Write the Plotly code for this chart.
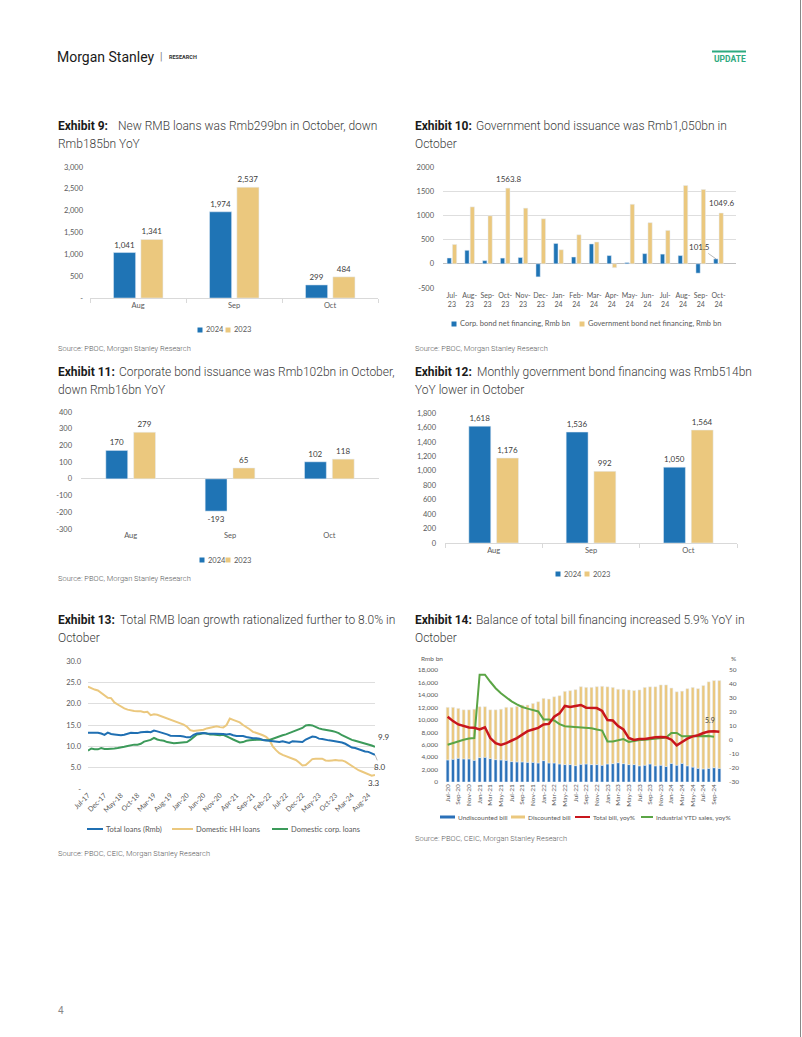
import plotly.graph_objects as go
import pandas as pd

W, H = 802, 1037
def fx(p): return p / W
def fy(p): return 1 - p / H

BLUE = "#1f74b5"
GOLD = "#ebc87e"
TXT = "#404040"
AX = "#595959"
GRID = "#dedede"
FAM = "Lato, Roboto, sans-serif"
TFAM = "Roboto, sans-serif"

# ---------------- data ----------------
ex9_cats = ["Aug", "Sep", "Oct"]
ex9_2024 = [1041, 1974, 299]
ex9_2023 = [1341, 2537, 484]
ex9_yticks = [0, 500, 1000, 1500, 2000, 2500, 3000]
ex9_yticktext = ["-", "500", "1,000", "1,500", "2,000", "2,500", "3,000"]

ex10_cats = ["Jul-23", "Aug-23", "Sep-23", "Oct-23", "Nov-23", "Dec-23", "Jan-24", "Feb-24",
             "Mar-24", "Apr-24", "May-24", "Jun-24", "Jul-24", "Aug-24", "Sep-24", "Oct-24"]
ex10_corp = [120, 279, 65, 118, 130, -270, 420, 140, 410, 170, 25, 210, 200, 170, -193, 101.5]
ex10_gov = [400, 1176, 992, 1563.8, 1150, 930, 290, 600, 450, -80, 1230, 850, 690, 1618, 1536, 1049.6]
ex10_ticktext = [c.replace("-", "-<br>") for c in ex10_cats]
ex10_yticks = [-500, 0, 500, 1000, 1500, 2000]
ex10_yticktext = ["-500", "0", "500", "1000", "1500", "2000"]

ex11_cats = ["Aug", "Sep", "Oct"]
ex11_2024 = [170, -193, 102]
ex11_2023 = [279, 65, 118]
ex11_yticks = [-300, -200, -100, 0, 100, 200, 300, 400]
ex11_yticktext = ["-300", "-200", "-100", "0", "100", "200", "300", "400"]

ex12_cats = ["Aug", "Sep", "Oct"]
ex12_2024 = [1618, 1536, 1050]
ex12_2023 = [1176, 992, 1564]

ex13_months = list(pd.date_range("2017-07-01", "2024-10-01", freq="MS").strftime("%b-%y"))
ex13_total = [13.2, 13.2, 13.1, 13.2, 13.0, 12.7,
              13.2, 12.9, 12.8, 12.7, 12.6, 12.7, 13.0, 13.2, 13.1, 13.1, 13.3, 13.4,
              13.4, 13.3, 13.7, 13.5, 13.3, 13.0, 12.8, 12.5, 12.5, 12.5, 12.4, 12.3,
              12.1, 12.1, 12.7, 13.0, 13.1, 13.1, 13.0, 13.0, 12.9, 12.9, 12.9, 12.9,
              12.8, 12.9, 12.6, 12.4, 12.4, 12.4, 12.2, 12.0, 11.9, 11.9, 11.8, 11.5,
              11.4, 11.3, 11.2, 11.1, 11.0, 11.2, 11.0, 10.8, 11.2, 11.1, 11.0, 11.0,
              11.6, 12.0, 12.3, 12.2, 11.8, 11.7, 11.5, 11.4, 11.3, 11.2, 11.1, 10.9,
              10.6, 10.1, 9.7, 9.6, 9.3, 9.1, 8.8, 8.7, 8.4, 8.0]
ex13_hh = [24.0, 23.6, 23.3, 23.1, 22.5, 21.9,
           21.4, 21.3, 20.3, 19.8, 19.3, 18.9, 18.6, 18.4, 18.3, 18.2, 18.2, 18.0,
           18.1, 17.3, 17.5, 17.4, 17.1, 16.9, 16.6, 16.3, 15.9, 15.6, 15.3, 15.1,
           14.6, 13.8, 13.6, 13.7, 13.8, 13.9, 14.2, 14.4, 14.6, 14.7, 14.5, 14.4,
           15.0, 16.5, 16.2, 15.9, 15.6, 15.0, 14.6, 14.0, 13.4, 13.2, 12.9, 12.6,
           12.2, 11.5, 10.0, 9.1, 8.4, 8.0, 7.7, 7.5, 7.2, 6.8, 6.2, 5.5,
           5.6, 6.4, 7.0, 7.1, 7.1, 7.1, 6.7, 6.6, 6.7, 6.8, 6.7, 6.7,
           6.4, 5.9, 5.3, 4.8, 4.4, 4.1, 3.8, 3.5, 3.1, 3.3]
ex13_corp = [9.0, 9.5, 9.3, 9.3, 9.6, 9.4,
             9.4, 9.4, 9.5, 9.6, 9.7, 9.9, 10.1, 10.3, 10.4, 10.4, 10.6, 11.1,
             11.3, 11.5, 12.0, 11.6, 11.4, 11.3, 11.0, 10.8, 10.7, 10.8, 10.9, 10.9,
             11.0, 11.5, 12.2, 12.8, 12.9, 13.1, 13.0, 12.8, 12.8, 12.7, 12.6, 12.7,
             12.4, 12.0, 11.6, 11.2, 10.9, 11.0, 11.3, 11.4, 11.5, 11.6, 11.6, 11.5,
             11.4, 11.5, 11.8, 12.1, 12.4, 12.6, 12.8, 13.1, 13.4, 13.6, 13.9, 14.3,
             14.9, 15.0, 14.9, 14.5, 14.2, 14.0, 13.9, 13.8, 13.6, 13.4, 13.1, 12.6,
             12.2, 11.8, 11.5, 11.3, 11.1, 10.9, 10.6, 10.4, 10.2, 9.9]
ex13_yticks = [0, 5, 10, 15, 20, 25, 30]
ex13_yticktext = ["-", "5.0", "10.0", "15.0", "20.0", "25.0", "30.0"]

ex14_months = list(pd.date_range("2020-07-01", "2024-10-01", freq="MS").strftime("%b-%y"))
ex14_undisc = [3550, 3660, 3820, 3710, 3710, 3490, 3920, 3980, 3760, 3600, 3550, 3490,
               3280, 3230, 3230, 3170, 3170, 3060, 3440, 3060, 3060, 2900, 2800, 2800,
               2630, 2850, 2900, 2800, 2800, 2690, 2900, 2950, 3100, 2950, 2800, 2800,
               2600, 2700, 2900, 2600, 2700, 2500, 3000, 2700, 3000, 2600, 2400, 2200,
               2100, 2200, 2300, 2200]
ex14_disc = [8450, 8340, 8010, 7890, 7890, 8210, 8180, 8120, 7840, 8000, 8150, 8510,
             8720, 8920, 9140, 9200, 9460, 9840, 10000, 10270, 10640, 10970, 11770, 11880,
             12210, 12470, 12310, 12410, 12520, 12690, 12400, 12250, 11800, 11950, 12000, 11900,
             12200, 12500, 12400, 12700, 12900, 13100, 12100, 11800, 11600, 12400, 12800, 12800,
             13400, 13900, 14000, 14100]
ex14_total_yoy = [16.6, 13.5, 11.1, 9.8, 8.9, 8.7, 7.5, 9.1, 1.4, -2.2, -3.6, -2.2,
                  -0.5, 1.4, 3.8, 6.3, 7.5, 8.7, 11.1, 11.5, 16.6, 19.0, 24.3, 23.6,
                  24.3, 25.0, 23.1, 22.8, 22.8, 20.7, 14.2, 13.9, 9.9, 7.5, 1.4, 0.0,
                  0.7, 0.7, 1.4, 1.9, 2.2, 1.9, 0.2, -3.8, -1.4, 1.0, 2.6, 3.4,
                  5.0, 6.0, 6.2, 5.9]
ex14_ind_sales = [-3.4, -2.2, -0.5, 0.2, 1.0, 1.4, 46.6, 46.6, 41.6, 37.0, 33.4, 30.3,
                  27.6, 25.5, 23.6, 22.4, 21.2, 20.4, 14.7, 14.7, 13.9, 11.3, 9.9, 9.6,
                  9.4, 9.1, 8.9, 8.4, 7.5, 6.7, -1.0, -1.0, -0.2, 0.7, -1.4, -0.5,
                  0.0, 0.2, 0.5, 1.0, 1.4, 1.7, 5.0, 5.0, 2.6, 2.6, 3.1, 3.1,
                  3.1, 2.9, 2.4]
ex14_y2ticks = [-30, -20, -10, 0, 10, 20, 30, 40, 50]
ex14_y2ticktext = ["-30", "-20", "-10", "0", "10", "20", "30", "40", "50"]

# ---------------- figure ----------------
fig = go.Figure()
fmt = lambda vals: [f"{v:,}" for v in vals]
bar_txt = dict(family=FAM, size=8, color=TXT)

# Exhibit 9
fig.add_trace(go.Bar(x=ex9_cats, y=ex9_2024, marker_color=BLUE, width=0.23, offset=-0.255,
                     text=fmt(ex9_2024), textposition="outside", textfont=bar_txt,
                     cliponaxis=False, xaxis="x", yaxis="y"))
fig.add_trace(go.Bar(x=ex9_cats, y=ex9_2023, marker_color=GOLD, width=0.23, offset=0.03,
                     text=fmt(ex9_2023), textposition="outside", textfont=bar_txt,
                     cliponaxis=False, xaxis="x", yaxis="y"))
# Exhibit 10
fig.add_trace(go.Bar(x=ex10_cats, y=ex10_corp, marker_color=BLUE, width=0.24, offset=-0.27,
                     xaxis="x2", yaxis="y2"))
fig.add_trace(go.Bar(x=ex10_cats, y=ex10_gov, marker_color=GOLD, width=0.24, offset=0.03,
                     xaxis="x2", yaxis="y2"))
# Exhibit 11
fig.add_trace(go.Bar(x=ex11_cats, y=ex11_2024, marker_color=BLUE, width=0.22, offset=-0.25,
                     text=fmt(ex11_2024), textposition="outside", textfont=bar_txt,
                     cliponaxis=False, xaxis="x3", yaxis="y3"))
fig.add_trace(go.Bar(x=ex11_cats, y=ex11_2023, marker_color=GOLD, width=0.22, offset=0.03,
                     text=fmt(ex11_2023), textposition="outside", textfont=bar_txt,
                     cliponaxis=False, xaxis="x3", yaxis="y3"))
# Exhibit 12
fig.add_trace(go.Bar(x=ex12_cats, y=ex12_2024, marker_color=BLUE, width=0.225, offset=-0.255,
                     text=fmt(ex12_2024), textposition="outside", textfont=bar_txt,
                     cliponaxis=False, xaxis="x4", yaxis="y4"))
fig.add_trace(go.Bar(x=ex12_cats, y=ex12_2023, marker_color=GOLD, width=0.225, offset=0.03,
                     text=fmt(ex12_2023), textposition="outside", textfont=bar_txt,
                     cliponaxis=False, xaxis="x4", yaxis="y4"))
# Exhibit 13
C13_BLUE, C13_GOLD, C13_GREEN = "#1f6fb2", "#ebc87e", "#3c9a5a"
for ys, col in [(ex13_hh, C13_GOLD), (ex13_corp, C13_GREEN), (ex13_total, C13_BLUE)]:
    fig.add_trace(go.Scatter(x=ex13_months, y=ys, mode="lines", line=dict(color=col, width=2),
                             xaxis="x5", yaxis="y5"))
# Exhibit 14
RED, GREEN14 = "#c8161d", "#5ba545"
fig.add_trace(go.Bar(x=ex14_months, y=ex14_undisc, marker_color="#2a70b8", width=0.55, offset=-0.275,
                     xaxis="x6", yaxis="y6"))
fig.add_trace(go.Bar(x=ex14_months, y=ex14_disc, base=ex14_undisc, marker_color=GOLD, width=0.55,
                     offset=-0.275, xaxis="x6", yaxis="y6"))
fig.add_trace(go.Scatter(x=ex14_months[:len(ex14_ind_sales)], y=ex14_ind_sales, mode="lines",
                         line=dict(color=GREEN14, width=2), xaxis="x6", yaxis="y7"))
fig.add_trace(go.Scatter(x=ex14_months, y=ex14_total_yoy, mode="lines",
                         line=dict(color=RED, width=2.5), xaxis="x6", yaxis="y7"))

tf = dict(family=FAM, size=7.5, color=AX)
tf_small = dict(family=FAM, size=6.5, color=AX)
NA = dict(automargin=False, fixedrange=True)

fig.update_layout(
    width=W, height=H, margin=dict(l=0, r=0, t=0, b=0, pad=0, autoexpand=False),
    paper_bgcolor="white", plot_bgcolor="rgba(0,0,0,0)", showlegend=False,
    barmode="overlay",
    # Exhibit 9
    xaxis=dict(domain=[fx(90), fx(378)], anchor="y", type="category", showline=True,
               linecolor="#d9d9d9", ticks="outside", tickson="boundaries", ticklen=4,
               tickcolor="#d9d9d9", tickfont=tf, showgrid=False, **NA),
    yaxis=dict(domain=[fy(298), fy(167)], anchor="x", range=[0, 3000], tickvals=ex9_yticks,
               ticktext=ex9_yticktext, showgrid=False, zeroline=False, tickfont=tf,
               ticklabelstandoff=6, **NA),
    # Exhibit 10
    xaxis2=dict(domain=[fx(443), fx(736)], anchor="y2", type="category", tickvals=ex10_cats,
                ticktext=ex10_ticktext, tickangle=0, tickfont=dict(family=FAM, size=7, color=AX),
                showgrid=False, showline=False, ticklabelstandoff=2, **NA),
    yaxis2=dict(domain=[fy(288), fy(167)], anchor="x2", range=[-500, 2000], tickvals=ex10_yticks,
                ticktext=ex10_yticktext, showgrid=True, gridcolor=GRID, zeroline=True,
                zerolinecolor="#bfbfbf", zerolinewidth=1, tickfont=tf, ticklabelstandoff=8, **NA),
    # Exhibit 11
    xaxis3=dict(domain=[fx(81), fx(379)], anchor="y3", type="category", showline=False,
                showgrid=False, tickfont=tf, **NA),
    yaxis3=dict(domain=[fy(529), fy(412)], anchor="x3", range=[-300, 400], tickvals=ex11_yticks,
                ticktext=ex11_yticktext, showgrid=False, zeroline=True, zerolinecolor="#d9d9d9",
                zerolinewidth=1, tickfont=tf, ticklabelstandoff=8, **NA),
    # Exhibit 12
    xaxis4=dict(domain=[fx(445), fx(737)], anchor="y4", type="category", showline=True,
                linecolor="#d9d9d9", ticks="outside", tickson="boundaries", ticklen=4,
                tickcolor="#d9d9d9", showgrid=False, tickfont=tf, **NA),
    yaxis4=dict(domain=[fy(543), fy(413)], anchor="x4", range=[0, 1800], dtick=200,
                tickformat=",", showgrid=False, zeroline=False, tickfont=tf,
                ticklabelstandoff=8, **NA),
    # Exhibit 13
    xaxis5=dict(domain=[fx(88), fx(375)], anchor="y5", type="category", range=[0, 87],
                tickvals=ex13_months[::5], tickangle=-45, tickfont=dict(family=FAM, size=7, color=AX),
                showgrid=False, showline=False, **NA),
    yaxis5=dict(domain=[fy(789), fy(661)], anchor="x5", range=[0, 30], tickvals=ex13_yticks,
                ticktext=ex13_yticktext, showgrid=True, gridcolor=GRID, zeroline=False,
                tickfont=tf, ticklabelstandoff=6, **NA),
    # Exhibit 14
    xaxis6=dict(domain=[fx(445), fx(722)], anchor="y6", type="category", range=[-0.5, 51.5],
                tickvals=ex14_months[::2], tickangle=-90, tickfont=tf_small,
                showgrid=False, showline=False, **NA),
    yaxis6=dict(domain=[fy(782), fy(670)], anchor="x6", range=[0, 18000], dtick=2000,
                tickformat=",", showgrid=False, zeroline=False, tickfont=tf_small,
                ticklabelstandoff=6, **NA),
    yaxis7=dict(domain=[fy(782), fy(670)], anchor="x6", overlaying="y6", side="right",
                range=[-30, 50], tickvals=ex14_y2ticks, ticktext=ex14_y2ticktext,
                showgrid=False, zeroline=False, tickfont=tf_small, ticklabelstandoff=6, **NA),
)

ann = []
shapes = []

def text(x, y, s, size=7.5, color=AX, anchor="left", family=FAM, weight=None):
    f = dict(family=family, size=size, color=color)
    if weight:
        f["weight"] = weight
    ann.append(dict(xref="paper", yref="paper", x=fx(x), y=fy(y), text=s, showarrow=False,
                    xanchor=anchor, yanchor="middle", font=f))

def rect(x0, x1, y0, y1, color):
    shapes.append(dict(type="rect", xref="paper", yref="paper", x0=fx(x0), x1=fx(x1),
                       y0=fy(y0), y1=fy(y1), line=dict(width=0), fillcolor=color))

def hline(x0, x1, y, color, w=2):
    shapes.append(dict(type="line", xref="paper", yref="paper", x0=fx(x0), x1=fx(x1),
                       y0=fy(y), y1=fy(y), line=dict(color=color, width=w)))

# header
text(55, 57, "Morgan Stanley", size=14, color="#1a1a1a", family=TFAM)
text(158, 57, "|", size=10, color="#777", family=TFAM)
text(167, 57.5, "<b>RESEARCH</b>", size=5.5, color="#333", family=TFAM)
hline(712, 746, 51.5, "#2eaa80", 2)
text(712, 58.5, "<b>UPDATE</b>", size=8.5, color="#2eaa80", family=TFAM)
text(56, 1010, "4", size=10, color="#888", family=TFAM)
shapes.append(dict(type="line", xref="paper", yref="paper", x0=fx(800.5), x1=fx(800.5), y0=0, y1=1,
                   line=dict(color="#888", width=1)))

# titles
titles = [
    (56, 116, 126, 144, "Exhibit 9:", "New RMB loans was Rmb299bn in October, down", "Rmb185bn YoY"),
    (413, 474, 126, 144, "Exhibit 10:", "Government bond issuance was Rmb1,050bn in", "October"),
    (56, 117, 372, 390, "Exhibit 11:", "Corporate bond issuance was Rmb102bn in October,", "down Rmb16bn YoY"),
    (413, 475, 372, 390, "Exhibit 12:", "Monthly government bond financing was Rmb514bn", "YoY lower in October"),
    (56, 118, 620, 638, "Exhibit 13:", "Total RMB loan growth rationalized further to 8.0% in", "October"),
    (413, 474, 620, 638, "Exhibit 14:", "Balance of total bill financing increased 5.9% YoY in", "October"),
]
for x0, x1, y1, y2, lab, l1, l2 in titles:
    text(x0, y1, f"<b>{lab}</b>", size=12, color="#1a1a1a", family=TFAM)
    text(x1, y1, l1, size=12, color="#3c3c3c", family=TFAM, weight=300)
    text(x0, y2, l2, size=12, color="#3c3c3c", family=TFAM, weight=300)

# sources
src1 = "Source: PBOC, Morgan Stanley Research"
src2 = "Source: PBOC, CEIC, Morgan Stanley Research"
for x, y, s in [(56, 348, src1), (413, 348, src1), (56, 578, src1), (56, 853, src2), (413, 838, src2)]:
    text(x, y, s, size=7.5, color="#5a5a5a", family=TFAM, weight=300)

# legends
def bar_legend(xs, y, labels, colors):
    for x, lab, col in zip(xs, labels, colors):
        rect(x - 2.5, x + 2.5, y - 2.5, y + 2.5, col)
        text(x + 4, y, lab)

bar_legend([200, 228], 330, ["2024", "2023"], [BLUE, GOLD])
bar_legend([454, 582], 324, ["Corp. bond net financing, Rmb bn", "Government bond net financing, Rmb bn"], [BLUE, GOLD])
bar_legend([202, 228], 560, ["2024", "2023"], [BLUE, GOLD])
bar_legend([558, 587], 574, ["2024", "2023"], [BLUE, GOLD])

for x0, x1, lab, col in [(87, 103, "Total loans (Rmb)", C13_BLUE), (172, 193, "Domestic HH loans", C13_GOLD),
                         (272, 288, "Domestic corp. loans", C13_GREEN)]:
    hline(x0, x1, 829, col, 2)
    text(x1 + 1, 829, lab)

rect(440, 455, 815.5, 818.5, "#2a70b8"); text(456, 817, "Undiscounted bill", size=6.5)
rect(511, 525, 815.5, 818.5, GOLD); text(526, 817, "Discounted bill", size=6.5)
hline(575, 590, 817, RED, 2); text(591, 817, "Total bill, yoy%", size=6.5)
hline(641, 653, 817, GREEN14, 2); text(654, 817, "Industrial YTD sales, yoy%", size=6.5)

# data labels / axis titles
lab_font = dict(family=FAM, size=8, color=TXT)
ann.append(dict(xref="x2", yref="y2", x="Oct-23", y=1563.8, text="1563.8", showarrow=False,
                yshift=9, xshift=3, font=lab_font))
ann.append(dict(xref="x2", yref="y2", x="Oct-24", y=1049.6, text="1049.6", showarrow=False,
                yshift=10, xshift=3, font=lab_font))
ann.append(dict(xref="x2", yref="y2", x="Oct-24", y=101.5, text="101.5", showarrow=True,
                arrowhead=0, arrowwidth=0.7, arrowcolor="#999", ax=-17, ay=-12, xshift=-2.5,
                font=lab_font))
ann.append(dict(xref="x5", yref="y5", x=ex13_months[-1], y=ex13_corp[-1], text="9.9", showarrow=False,
                xshift=9, yshift=10, font=lab_font))
ann.append(dict(xref="x5", yref="y5", x=ex13_months[-1], y=ex13_total[-1], text="8.0", showarrow=True,
                arrowhead=0, arrowwidth=0.7, arrowcolor="#999", ax=5, ay=12, font=lab_font))
ann.append(dict(xref="x5", yref="y5", x=ex13_months[-1], y=ex13_hh[-1], text="3.3", showarrow=False,
                yshift=-8, xshift=-1, font=lab_font))
ann.append(dict(xref="x6", yref="y7", x=ex14_months[-2], y=ex14_total_yoy[-2], text="5.9", showarrow=False,
                yshift=11, xshift=-4, font=dict(family=FAM, size=7, color=TXT)))
text(432, 658, "Rmb bn", size=6.5, anchor="center")
text(733, 658, "%", size=6.5, anchor="center")

fig.update_layout(annotations=ann, shapes=shapes)
fig.write_html("out.html", config={"displayModeBar": False},
               post_script="document.body.style.margin='0px';")
